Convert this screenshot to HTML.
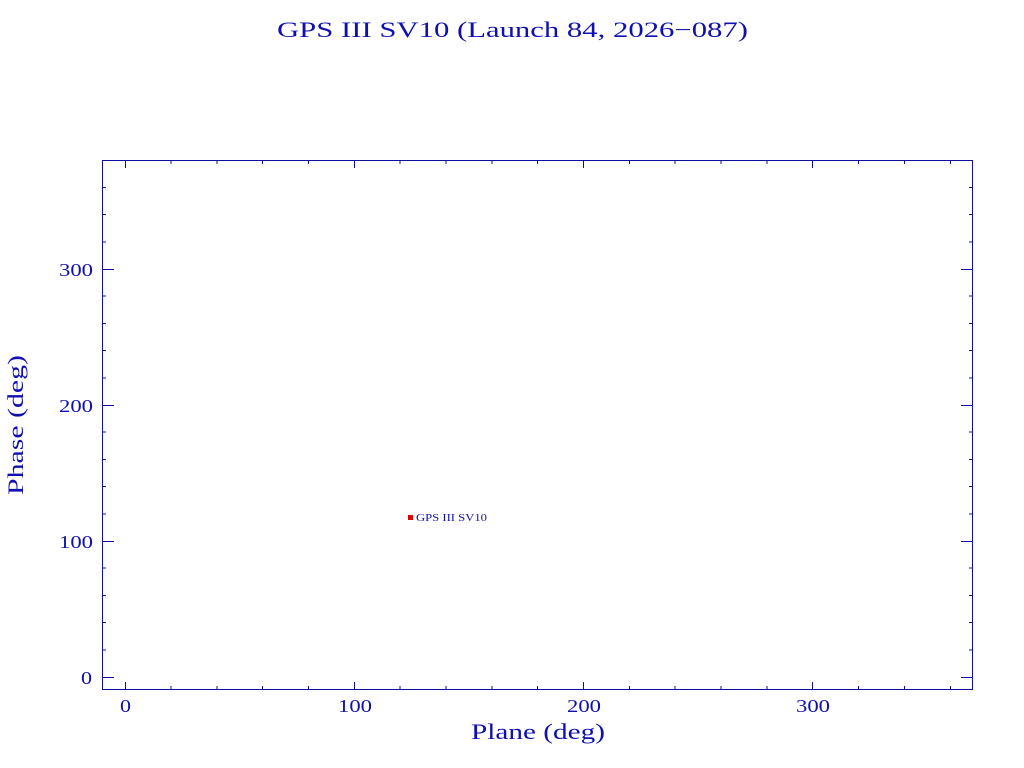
<!DOCTYPE html>
<html><head><style>body{margin:0;background:#fff}svg{display:block}text{font-family:"Liberation Serif",serif;fill:#1010b0}</style></head>
<body>
<svg width="1024" height="768" xmlns="http://www.w3.org/2000/svg">
<text x="277" y="37" font-size="22" textLength="471" lengthAdjust="spacingAndGlyphs">GPS III SV10 (Launch 84, 2026−087)</text>
<rect x="102.5" y="160.5" width="870" height="529" fill="none" stroke="#1010a0" stroke-width="1"/>
<path stroke="#1010a0" stroke-width="1" fill="none" d="
M125.5 690v-8M125.5 160v8M354.5 690v-8M354.5 160v8M583.5 690v-8M583.5 160v8M812.5 690v-8M812.5 160v8
M171 690v-4M171 160v4M217 690v-4M217 160v4M262.5 690v-4M262.5 160v4M308.5 690v-4M308.5 160v4
M400 690v-4M400 160v4M446 690v-4M446 160v4M492 690v-4M492 160v4M537.5 690v-4M537.5 160v4
M629.5 690v-4M629.5 160v4M675 690v-4M675 160v4M721 690v-4M721 160v4M767 690v-4M767 160v4
M858.5 690v-4M858.5 160v4M904.5 690v-4M904.5 160v4M950.5 690v-4M950.5 160v4
M102 677.5h12M973 677.5h-12M102 541.5h12M973 541.5h-12M102 405.5h12M973 405.5h-12M102 269.5h12M973 269.5h-12
M102 650h4M973 650h-4M102 622.5h4M973 622.5h-4M102 595.5h4M973 595.5h-4M102 568h4M973 568h-4
M102 514h4M973 514h-4M102 486.5h4M973 486.5h-4M102 459.5h4M973 459.5h-4M102 432h4M973 432h-4
M102 378h4M973 378h-4M102 350.5h4M973 350.5h-4M102 323.5h4M973 323.5h-4M102 296h4M973 296h-4
M102 242h4M973 242h-4M102 214.5h4M973 214.5h-4M102 187.5h4M973 187.5h-4"/>
<g font-size="18">
<text x="120" y="712" textLength="11" lengthAdjust="spacingAndGlyphs">0</text>
<text x="338" y="712" textLength="34" lengthAdjust="spacingAndGlyphs">100</text>
<text x="567" y="712" textLength="34" lengthAdjust="spacingAndGlyphs">200</text>
<text x="796" y="712" textLength="34" lengthAdjust="spacingAndGlyphs">300</text>
<text x="81" y="684" textLength="11" lengthAdjust="spacingAndGlyphs">0</text>
<text x="59" y="548" textLength="34" lengthAdjust="spacingAndGlyphs">100</text>
<text x="59" y="412" textLength="34" lengthAdjust="spacingAndGlyphs">200</text>
<text x="59" y="276" textLength="34" lengthAdjust="spacingAndGlyphs">300</text>
</g>
<text x="471" y="739" font-size="22" textLength="134" lengthAdjust="spacingAndGlyphs">Plane (deg)</text>
<text transform="translate(23,495) rotate(-90)" font-size="22" textLength="140" lengthAdjust="spacingAndGlyphs">Phase (deg)</text>
<rect x="408" y="515" width="5" height="5" fill="#e00000"/>
<text x="416" y="521" font-size="10" textLength="71" lengthAdjust="spacingAndGlyphs">GPS III SV10</text>
</svg>
</body></html>
